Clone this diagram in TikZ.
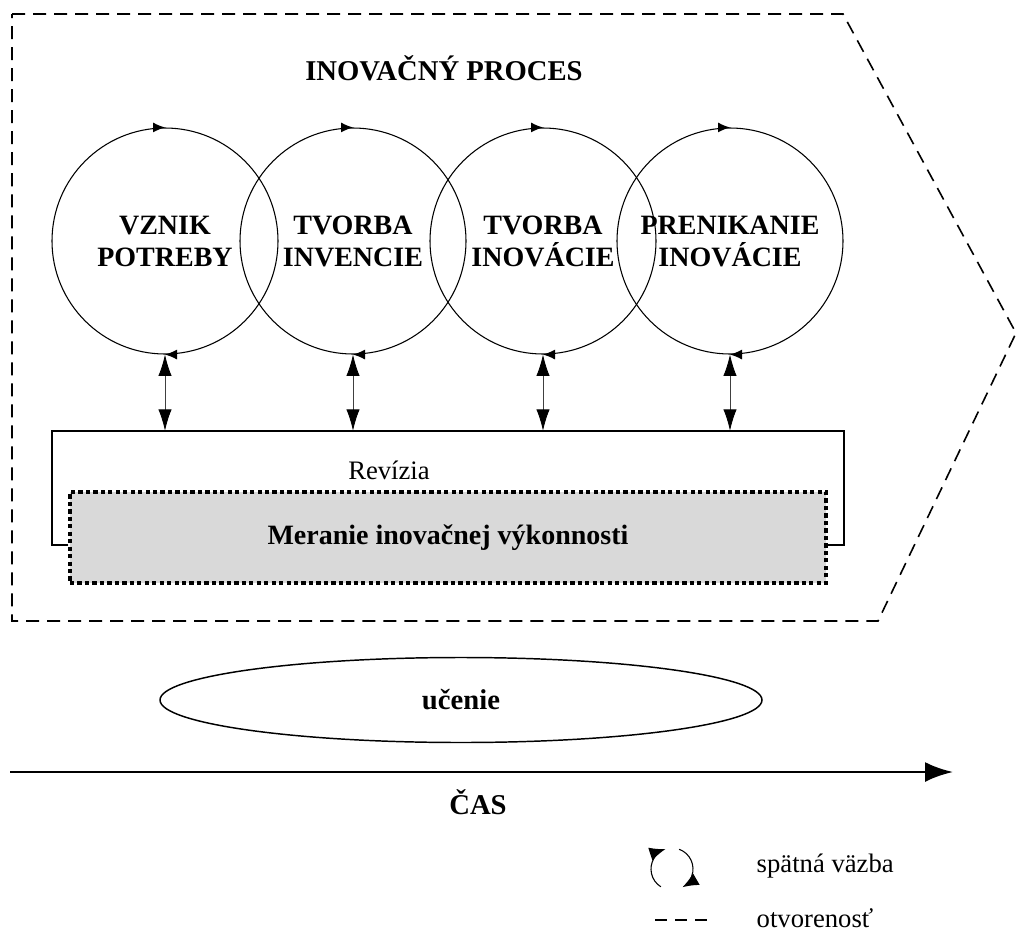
\documentclass[tikz,border=0pt]{standalone}
\usepackage{fontspec}
\setmainfont{Liberation Serif}
\usetikzlibrary{arrows.meta,shapes.geometric}
\begin{document}
\begin{tikzpicture}[x=0.75pt,y=0.75pt,
  boldtext/.style={font=\fontsize{21.5}{24}\selectfont\bfseries},
  plaintext/.style={font=\fontsize{20}{24}\selectfont},
  phase/.style={circle, draw, line width=0.8pt, minimum size=169.5pt,
    inner sep=0pt, align=center, font=\fontsize{21}{24}\selectfont\bfseries},
  cyclearrow/.style={line width=0.8pt, -{Latex[length=9pt,width=7.5pt]}},
  linkarrow/.style={line width=0.6pt, black!75,
    {Latex[length=16pt,width=10pt,black]}-{Latex[length=16pt,width=10pt,black]}},
  openline/.style={line width=1.2pt, dash pattern=on 9.75pt off 6pt},
  measurebox/.style={draw, fill=black!15, line width=2.6pt,
    dash pattern=on 3.2pt off 2.4pt, minimum width=567pt, minimum height=68.25pt,
    inner sep=0pt, font=\fontsize{21}{24}\selectfont\bfseries},
  reviewframe/.style={line width=1.7pt},
  learning/.style={ellipse, draw, line width=1.1pt, minimum width=451.5pt,
    minimum height=63.75pt, inner sep=0pt, font=\fontsize{21.5}{24}\selectfont\bfseries},
  legendarrow/.style={line width=0.8pt, -{Latex[length=12pt,width=10pt]}}
]
\useasboundingbox (0,0) rectangle (1018,-932);

% open boundary of the innovation process
\draw[openline] (12,-14) -- (843,-14) -- (1016,-333) -- (878,-621) -- (12,-621) -- cycle;

\node[boldtext] (title) at (444,-68) {INOVAČNÝ PROCES};

% the four phases
\node[phase] (c1) at (165,-241) {VZNIK\\POTREBY};
\node[phase] (c2) at (353,-241) {TVORBA\\INVENCIE};
\node[phase] (c3) at (543,-241) {TVORBA\\INOVÁCIE};
\node[phase] (c4) at (730,-241) {PRENIKANIE\\INOVÁCIE};

% clockwise feedback marks on each phase
\foreach \c in {c1,c2,c3,c4} {
  \draw[cyclearrow] ([xshift=-3]\c.north) -- (\c.north);
  \draw[cyclearrow] ([xshift=3]\c.south) -- (\c.south);
}

% review frame and measurement box
\node[minimum width=594pt, minimum height=85.5pt, inner sep=0pt] (rev) at (448,-488) {};
\node[measurebox] (meas) at (448,-537.5) {Meranie inovačnej výkonnosti};
\draw[reviewframe] (meas.west |- rev.south) -- (rev.south west) -- (rev.north west)
  -- (rev.north east) -- (rev.south east) -- (meas.east |- rev.south);
\node[plaintext] (revtext) at (389,-470) {Revízia};

\foreach \c in {c1,c2,c3,c4}
  \draw[linkarrow] (\c.south) -- (\c.south |- rev.north);

% learning and time axis
\node[learning] (learn) at (461,-700) {učenie};
\coordinate (t0) at (10,-772);
\coordinate (t1) at (953,-772);
\draw[line width=2.2pt, -{Latex[length=21pt,width=15pt]}] (t0) -- (t1);
\node[boldtext] (time) at (478,-802) {ČAS};

% legend
\coordinate (fb) at (672,-869);
\draw[legendarrow] ([shift={(238:21)}]fb) arc(238:108:21);
\draw[legendarrow] ([shift={(70:21)}]fb) arc(70:-60:21);
\node[plaintext, anchor=west] (fbtext) at (752,-866) {spätná väzba};
\coordinate (d0) at (655,-920);
\coordinate (d1) at (712,-920);
\draw[line width=1.1pt, dash pattern=on 9pt off 6pt] (d0) -- (d1);
\node[plaintext, anchor=west] (optext) at (752,-918) {otvorenosť};
\end{tikzpicture}
\end{document}
